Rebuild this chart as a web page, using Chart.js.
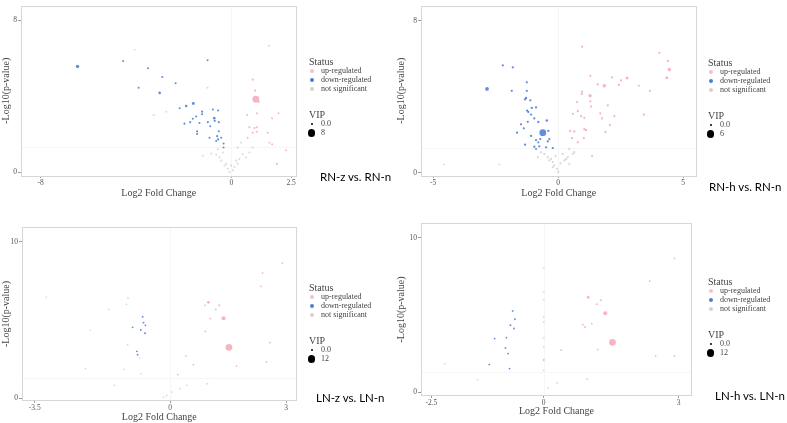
<!DOCTYPE html>
<html><head><meta charset="utf-8">
<script src="https://cdn.jsdelivr.net/npm/chart.js@4.4.0/dist/chart.umd.min.js"></script>
<style>
body{margin:0;background:#fff;}
#wrap{position:relative;width:787px;height:423px;overflow:hidden;font-family:"Liberation Serif",serif;background:#fff;}
#notes{position:absolute;left:0;top:0;width:787px;height:423px;will-change:transform;-webkit-font-smoothing:antialiased;}
canvas{position:absolute;}
.t{position:absolute;line-height:1;white-space:nowrap;color:#444;}
.dot{position:absolute;border-radius:50%;}
.lab{position:absolute;line-height:1;white-space:nowrap;font-family:Lato,sans-serif;color:#000;}
</style></head>
<body><div id="wrap">
<canvas id="c1" width="300" height="199" style="left:0;top:0"></canvas>
<canvas id="c2" width="305" height="199" style="left:395px;top:0"></canvas>
<canvas id="c3" width="300" height="213" style="left:0;top:210px"></canvas>
<canvas id="c4" width="305" height="207" style="left:395px;top:210px"></canvas>
<div id="notes"></div>
</div>
<script>
// [log2FC, -log10(p), VIP]
var rnzUp = [[1.02,3.84,8],[0.89,4.87,1],[0.99,4.29,1],[1.14,3.70,1],[0.66,3.01,0.8],[1.07,3.10,0.8],[1.70,2.84,0.8],[1.97,3.10,0.8],[0.75,2.36,1],[0.96,2.32,1],[1.06,2.36,1],[0.89,2.07,1],[1.06,2.12,1],[1.52,2.07,0.8],[1.59,1.55,0.8],[1.70,1.46,0.8],[0.68,1.81,0.8],[2.29,1.15,0.8],[1.90,0.43,1]];
var rnzDown = [[-6.45,5.56,3],[-4.54,5.85,1],[-3.50,5.47,1],[-2.90,5.01,1],[-2.34,4.68,1],[-3.89,4.44,1],[-3.01,4.17,1.8],[-1.60,3.61,2.2],[-1.90,3.48,1.8],[-2.17,3.36,1],[-1.23,3.18,1.2],[-1.23,3.05,1],[-0.78,3.30,1],[-0.56,3.24,1],[-1.62,2.81,1],[-1.48,2.93,1],[-0.72,2.84,1.8],[-0.70,2.70,1.2],[-0.99,2.63,1],[-1.34,2.58,1],[-1.97,2.55,1],[-1.73,2.63,1],[-0.89,2.41,1],[-0.53,2.63,1],[-1.44,2.15,1],[-1.44,2.01,1],[-0.53,2.15,1],[-0.92,1.81,1],[-0.60,1.89,1.2],[-0.56,1.72,1.2],[-0.64,1.64,1],[-0.43,1.81,1],[-0.33,1.50,1],[-0.33,1.29,1],[-1.00,5.89,1]];
var rnzNs = [[-0.08,0,1],[-0.15,0.17,1],[-0.29,0.34,1],[-0.43,0.60,1],[-0.5,0.77,1],[-0.64,0.91,1],[-0.85,0.98,1],[-1.2,0.86,1],[-0.36,1.03,1],[0.13,0.26,1],[0.26,0.43,1],[0.33,0.69,1],[0.47,0.95,1],[0.61,0.77,1],[0.26,1.29,1],[0.40,1.55,1],[0.75,1.03,1],[0.89,1.29,1],[0.06,0.09,1],[-0.22,0.43,1],[-0.01,0.34,1],[0.20,0.60,1],[-0.57,1.2,1],[-4.05,6.45,0.5],[1.57,6.66,1],[-1.0,4.44,1],[-3.26,3.01,1],[-2.73,3.18,0.8]];

var rnhUp = [[4.45,5.44,2.5],[4.35,5.01,1.8],[4.39,5.89,1],[4.05,6.32,0.8],[0.96,6.65,1],[1.29,5.11,1],[1.85,4.59,2.2],[2.16,5.03,1],[2.52,4.87,1],[2.76,5.0,1.8],[1.28,4.06,2.2],[0.96,4.28,1],[0.95,4.16,1],[1.29,3.77,1],[1.32,3.49,1],[0.76,3.73,1],[1.59,4.66,1],[2.43,4.63,1],[3.23,4.59,0.8],[3.68,4.32,1],[1.99,3.56,1],[0.59,3.11,1],[0.79,3.25,1],[0.92,2.99,1],[1.05,2.90,1],[1.69,3.13,1],[1.76,2.87,1],[2.25,2.99,1],[2.07,2.52,1],[3.43,3.07,1],[0.48,2.21,1],[0.65,2.18,1],[1.05,2.30,1],[1.12,2.25,1],[0.56,1.83,1],[1.03,1.83,1],[0.79,1.61,1],[1.89,2.16,0.8],[1.36,0.90,0.8]];
var rnhDown = [[-2.84,4.42,2.6],[-2.21,5.66,1],[-1.81,5.56,1],[-1.85,4.32,1],[-1.25,4.77,1],[-1.25,4.32,1],[-1.28,3.94,1.2],[-1.32,3.87,1],[-1.11,3.82,1],[-1.24,3.28,1],[-1.19,3.21,1],[-1.05,3.42,1],[-0.88,3.45,1],[-1.08,3.07,1],[-0.95,2.87,1],[-0.79,2.68,1],[-0.45,2.76,1.2],[-1.21,2.69,1],[-1.48,2.56,1],[-1.37,2.35,1],[-1.64,2.12,1],[-0.61,2.12,6],[-0.39,2.21,1],[-1.08,1.95,1],[-0.88,1.73,1],[-0.71,1.78,1],[-0.35,1.78,1],[-0.41,1.66,1],[-1.32,1.49,1],[-0.95,1.38,1],[-0.75,1.40,1],[-0.48,1.35,1],[-0.21,1.31,1],[-0.88,1.26,0.8],[-0.79,1.61,0.8]];
var rnhNs = [[-0.55,1.0,1],[-0.28,0.74,1],[-0.21,0.57,1],[-0.15,0.40,1],[-0.04,0.22,1],[0.01,0.05,1],[0.25,0.66,1],[0.32,0.74,1.2],[0.39,0.83,1],[0.59,1.0,1],[0.65,1.09,1],[0.19,1.0,1],[-0.41,0.83,1],[-0.68,1.09,1],[-0.81,0.83,1],[-0.21,0.31,1],[-0.35,0.66,1],[0.45,1.26,1],[-4.55,0.45,0.5],[-2.35,0.45,0.5],[0.45,0.48,1],[-0.1,0.9,1],[0.1,0.5,1]];

var lnzUp = [[1.52,3.25,12],[1.38,5.11,6],[0.99,6.13,3],[1.27,5.94,1.5],[1.18,5.68,1],[0.9,5.94,1],[0.91,4.27,1],[1.04,5.09,0.8],[1.72,2.05,0.8],[0.60,2.14,1],[0.41,2.69,0.8],[0.2,1.50,0.8],[2.39,8.01,0.8],[2.9,8.65,0.8],[2.35,7.16,0.8],[2.58,3.55,0.8],[2.49,2.31,0.8]];
var lnzDown = [[-0.71,5.21,1],[-0.69,4.83,1],[-0.97,4.53,1],[-0.76,4.36,1],[-0.64,4.66,1],[-0.65,4.15,1],[-0.86,2.99,1],[-0.84,2.78,1]];
var lnzNs = [[-3.2,6.47,1],[-1.09,6.41,1],[-1.13,6.0,1],[-1.59,5.68,0.8],[-1.10,3.42,1],[-0.79,2.56,1],[-2.19,1.88,1],[-1.20,1.84,1],[-0.76,1.56,1],[-1.44,0.81,0.8],[-2.06,4.34,0.5],[-0.09,0.17,1],[0.04,0.38,1],[0.26,0.6,1],[-0.17,0.06,1],[0.43,0.81,1],[0.96,0.92,1.5]];

var lnhUp = [[1.53,3.23,12],[1.37,5.11,6],[0.99,6.14,3],[1.27,5.95,1],[1.18,5.69,1],[0.92,4.22,1],[0.87,4.37,1],[1.07,4.44,0.8],[2.36,7.18,0.8],[2.91,8.66,0.8],[2.49,2.33,0.8],[2.91,2.35,0.8],[1.2,2.76,0.8],[0.39,2.72,0.8]];
var lnhDown = [[-0.69,5.26,1],[-0.64,4.72,1],[-0.74,4.33,1.2],[-0.66,4.12,1],[-1.09,3.47,0.8],[-0.85,2.87,1],[-0.79,2.50,0.8],[-1.21,1.79,1],[-0.76,1.53,1],[-0.83,3.53,0.8]];
var lnhNs = [[0,8.04,1],[0,6.49,1],[0,5.99,1],[0,4.87,1],[0,4.55,1],[0,3.53,1],[0,2.93,0.8],[0,2.11,1],[0,1.42,1],[0,2.07,0.8],[-2.2,1.85,1],[-1.47,0.82,0.8],[0.97,0.86,1.5],[0.1,0.3,0.8],[0.3,0.6,0.8]];

var rnzXTicks = [-8, 0, 2.5];
var rnhXTicks = [-5, 0, 5];
var lnzXTicks = [-3.5, 0, 3];
var lnhXTicks = [-2.5, 0, 3];
var rnYTicks = [0, 8];
var lnYTicks = [0, 10];
var vipMax = [8, 6, 12, 12];
var titles = ['RN-z vs. RN-n', 'RN-h vs. RN-n', 'LN-z vs. LN-n', 'LN-h vs. LN-n'];
var statusNames = ['up-regulated', 'down-regulated', 'not significant'];
var pCut = 1.3;  // -log10(0.05)

var upColor = 'rgba(243,168,182,0.85)';
var downColor = 'rgba(72,122,214,0.85)';
var nsColor = 'rgba(165,165,165,0.4)';

var boxPlugin = {
  id: 'box',
  beforeDatasetsDraw: function(chart) {
    var ctx = chart.ctx, a = chart.chartArea;
    var x0 = chart.scales.x.getPixelForValue(0);
    var y0 = chart.scales.y.getPixelForValue(pCut);
    ctx.save();
    ctx.strokeStyle = '#f6f6f6';
    ctx.lineWidth = 1;
    ctx.beginPath();
    ctx.moveTo(a.left, Math.round(y0) + 0.5); ctx.lineTo(a.right, Math.round(y0) + 0.5);
    ctx.moveTo(Math.round(x0) + 0.5, a.top); ctx.lineTo(Math.round(x0) + 0.5, a.bottom);
    ctx.stroke();
    ctx.strokeStyle = '#d6d6d6';
    ctx.strokeRect(Math.round(a.left) + 0.5, Math.round(a.top) + 0.5, Math.round(a.width) - 1, Math.round(a.height) - 1);
    ctx.restore();
  }
};

function toPts(arr) {
  return arr.map(function(p) { return {x: p[0], y: p[1], vip: p[2]}; });
}

function makeChart(id, p) {
  var vmax = p.vmax;
  var rad = function(c) { return 0.7 + 2.7 * c.raw.vip / vmax; };
  var ds = function(arr, color) {
    return {data: toPts(arr), backgroundColor: color, borderWidth: 0, pointRadius: rad, pointHoverRadius: rad};
  };
  var tickFont = {family: 'Liberation Serif', size: 7.5};
  var titleFont = {family: 'Liberation Serif', size: 10};
  new Chart(document.getElementById(id), {
    type: 'scatter',
    data: {datasets: [ds(p.ns, nsColor), ds(p.up, upColor), ds(p.down, downColor)]},
    options: {
      responsive: false, animation: false, devicePixelRatio: 1,
      layout: {padding: {top: p.padTop, right: p.padRight, left: 0, bottom: 0}},
      plugins: {legend: {display: false}, tooltip: {enabled: false}},
      scales: {
        x: {
          type: 'linear', min: p.xMin, max: p.xMax,
          afterBuildTicks: function(s) { s.ticks = p.xTicks.map(function(v) { return {value: v}; }); },
          afterFit: function(s) { s.height = p.xH; },
          grid: {drawOnChartArea: false, drawTicks: true, tickLength: 2, color: '#9a9a9a'},
          border: {display: false},
          ticks: {font: tickFont, color: '#555', padding: 1, maxRotation: 0},
          title: {display: true, text: 'Log2 Fold Change', font: titleFont, color: '#444', padding: 0}
        },
        y: {
          type: 'linear', min: p.yMin, max: p.yMax,
          afterBuildTicks: function(s) { s.ticks = p.yTicks.map(function(v) { return {value: v}; }); },
          afterFit: function(s) { s.width = p.yW; },
          grid: {drawOnChartArea: false, drawTicks: true, tickLength: 3, color: '#9a9a9a'},
          border: {display: false},
          ticks: {font: tickFont, color: '#555', padding: 1},
          title: {display: true, text: '-Log10(p-value)', font: titleFont, color: '#444', padding: 0}
        }
      }
    },
    plugins: [boxPlugin]
  });
}

makeChart('c1', {up: rnzUp, down: rnzDown, ns: rnzNs, vmax: vipMax[0], xTicks: rnzXTicks, yTicks: rnYTicks,
  xMin: -8.82, xMax: 2.73, yMin: -0.21, yMax: 8.78, padTop: 2, padRight: 3, yW: 21, xH: 23});
makeChart('c2', {up: rnhUp, down: rnhDown, ns: rnhNs, vmax: vipMax[1], xTicks: rnhXTicks, yTicks: rnYTicks,
  xMin: -5.48, xMax: 5.54, yMin: -0.16, yMax: 8.81, padTop: 3, padRight: 3, yW: 26, xH: 23});
makeChart('c3', {up: lnzUp, down: lnzDown, ns: lnzNs, vmax: vipMax[2], xTicks: lnzXTicks, yTicks: lnYTicks,
  xMin: -3.83, xMax: 3.27, yMin: -0.19, yMax: 10.96, padTop: 17, padRight: 3, yW: 22, xH: 22});
makeChart('c4', {up: lnhUp, down: lnhDown, ns: lnhNs, vmax: vipMax[3], xTicks: lnhXTicks, yTicks: lnYTicks,
  xMin: -2.73, xMax: 3.30, yMin: -0.24, yMax: 10.94, padTop: 13, padRight: 8, yW: 26, xH: 21});

// legends and panel labels
var notes = document.getElementById('notes');
function addText(txt, x, y, size, cls) {
  var d = document.createElement('div');
  d.className = cls || 't';
  d.textContent = txt;
  d.style.left = x + 'px';
  d.style.top = Math.round(y - size * 0.55) + 'px';
  d.style.fontSize = size + 'px';
  notes.appendChild(d);
}
function addDot(cx, cy, r, color) {
  var d = document.createElement('div');
  d.className = 'dot';
  d.style.left = (cx - r) + 'px';
  d.style.top = (cy - r) + 'px';
  d.style.width = d.style.height = (2 * r) + 'px';
  d.style.background = color;
  notes.appendChild(d);
}
var legendColors = ['#f6c0c8', '#4a7fd6', '#d2d2d2'];
var legendPos = [[309, 62], [708, 63], [309, 288], [708, 282]];
var labelPos = [[320, 177], [709, 187], [316, 398], [715, 396]];
legendPos.forEach(function(lp, i) {
  var x = lp[0], y = lp[1];
  addText('Status', x, y, 10);
  statusNames.forEach(function(n, k) {
    addDot(x + 2.5, y + 9 + k * 9, 2, legendColors[k]);
    addText(n, x + 12, y + 9 + k * 9, 8);
  });
  addText('VIP', x, y + 53, 10);
  addDot(x + 2.5, y + 62, 1, '#000');
  addText('0.0', x + 12, y + 62, 8);
  addDot(x + 2.5, y + 71, 3.6, '#000');
  addText(String(vipMax[i]), x + 12, y + 71, 8);
  addText(titles[i], labelPos[i][0], labelPos[i][1], 11.5, 'lab');
});
</script>
</body></html>
